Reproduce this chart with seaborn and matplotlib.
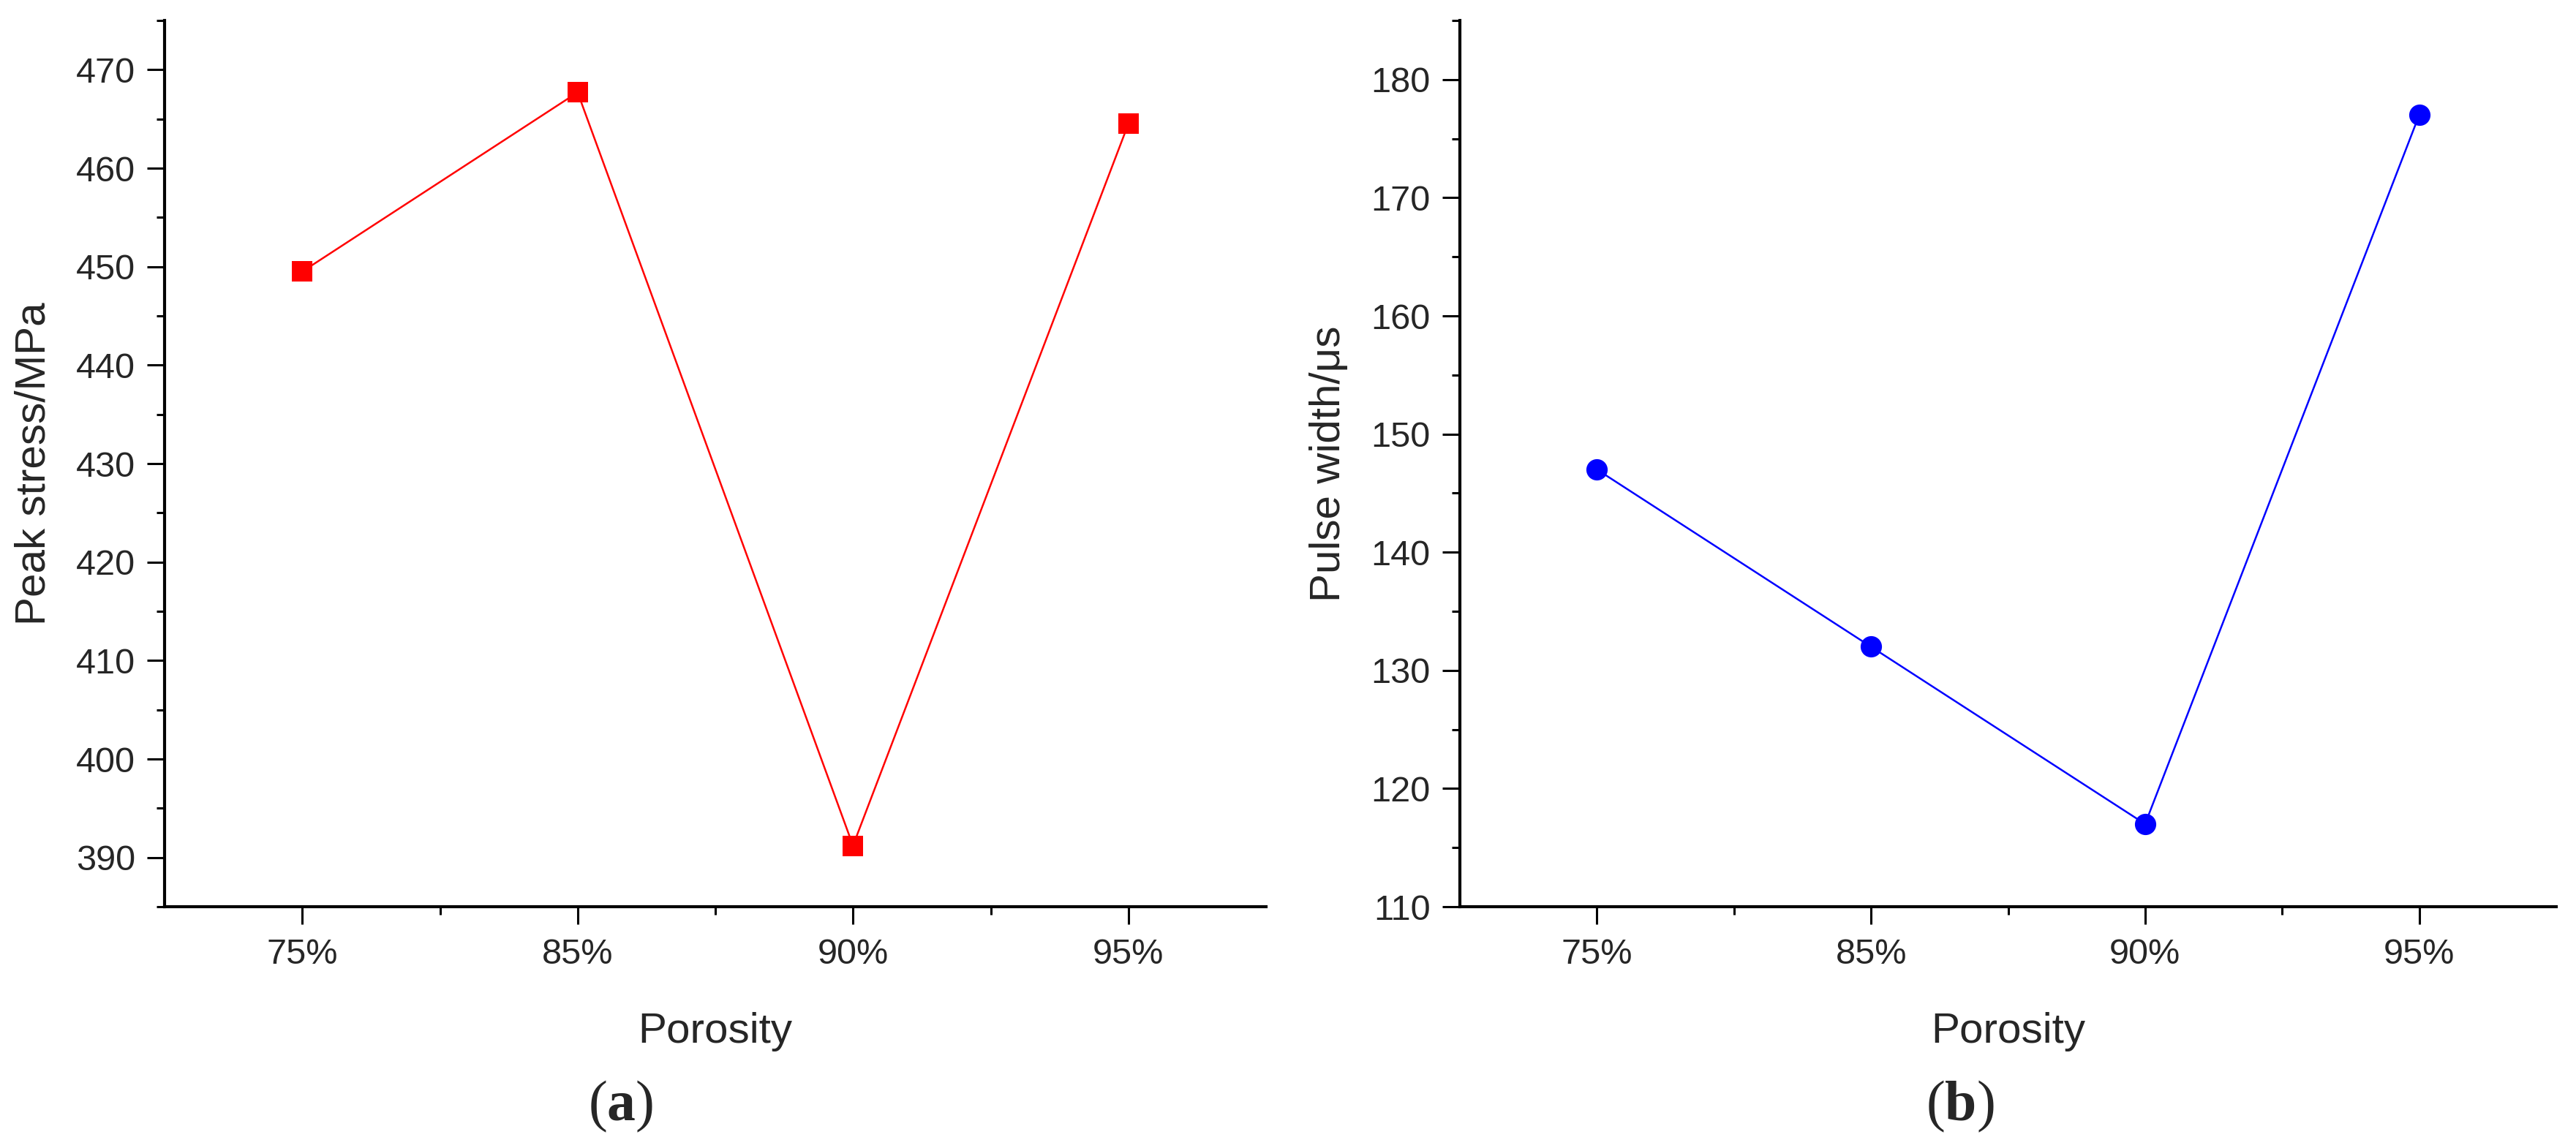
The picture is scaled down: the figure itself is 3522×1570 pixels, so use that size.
import numpy as np
import pandas as pd
import matplotlib
matplotlib.use('Agg')
import matplotlib.pyplot as plt
from matplotlib.ticker import MultipleLocator, FixedLocator
import seaborn as sns

porosity = ['75%', '85%', '90%', '95%']
peak_stress = [449.5, 467.7, 391.2, 464.5]
pulse_width = [147.0, 132.0, 117.0, 177.0]

sns.set_style('ticks')
plt.rcParams['font.family'] = ['Liberation Sans', 'DejaVu Sans']
plt.rcParams['mathtext.fontset'] = 'custom'
plt.rcParams['mathtext.rm'] = 'Liberation Serif'
plt.rcParams['mathtext.bf'] = 'Liberation Serif:bold'

df = pd.DataFrame({'Porosity': porosity, 'stress': peak_stress, 'width': pulse_width})

W, H = 3522, 1570
fig = plt.figure(figsize=(W / 100, H / 100), dpi=100)
fig.patch.set_facecolor('white')

ax1 = fig.add_axes([225 / W, 1 - 1240 / H, (1731 - 225) / W, (1240 - 28) / H])
ax2 = fig.add_axes([1996 / W, 1 - 1240 / H, (3495 - 1996) / W, (1240 - 28) / H])

sns.lineplot(data=df, x='Porosity', y='stress', ax=ax1, color='#ff0000',
             marker='s', markersize=20, markeredgewidth=0, linewidth=1.8, sort=False)
sns.lineplot(data=df, x='Porosity', y='width', ax=ax2, color='#0000ff',
             marker='o', markersize=21, markeredgewidth=0, linewidth=1.8, sort=False)

panels = [
    (ax1, (385, 475), 'Peak stress/MPa', '(a)', 849, 'a'),
    (ax2, (110, 185), 'Pulse width/\u03bcs', '(b)', 2680, 'b'),
]

for ax, ylim, ylabel, tag, tag_x, letter in panels:
    ax.set_xlim(-0.5, 3.5)
    ax.set_ylim(*ylim)
    ax.yaxis.set_major_locator(MultipleLocator(10))
    ax.yaxis.set_minor_locator(MultipleLocator(5))
    ax.xaxis.set_major_locator(FixedLocator([0, 1, 2, 3]))
    ax.xaxis.set_minor_locator(FixedLocator([0.5, 1.5, 2.5]))
    ax.set_xticklabels(porosity)
    sns.despine(ax=ax)
    for side in ['left', 'bottom']:
        ax.spines[side].set_linewidth(3.0)
        ax.spines[side].set_color('black')
    ax.tick_params(which='major', length=17, width=2.2, labelsize=35, pad=14, color='black')
    ax.tick_params(which='minor', length=8, width=2.2, color='black')
    ax.tick_params(axis='y', which='major', pad=12)
    ax.set_ylabel(ylabel, fontsize=42, labelpad=22)
    ax.set_xlabel('Porosity', fontsize=42, labelpad=40)
    fig.text(tag_x / W, 1 - 1513 / H, r'($\mathbf{' + letter + r'}$)',
             fontsize=56, family='Liberation Serif', ha='center', va='center')

fig.savefig('out.png', dpi=100, facecolor='white')
